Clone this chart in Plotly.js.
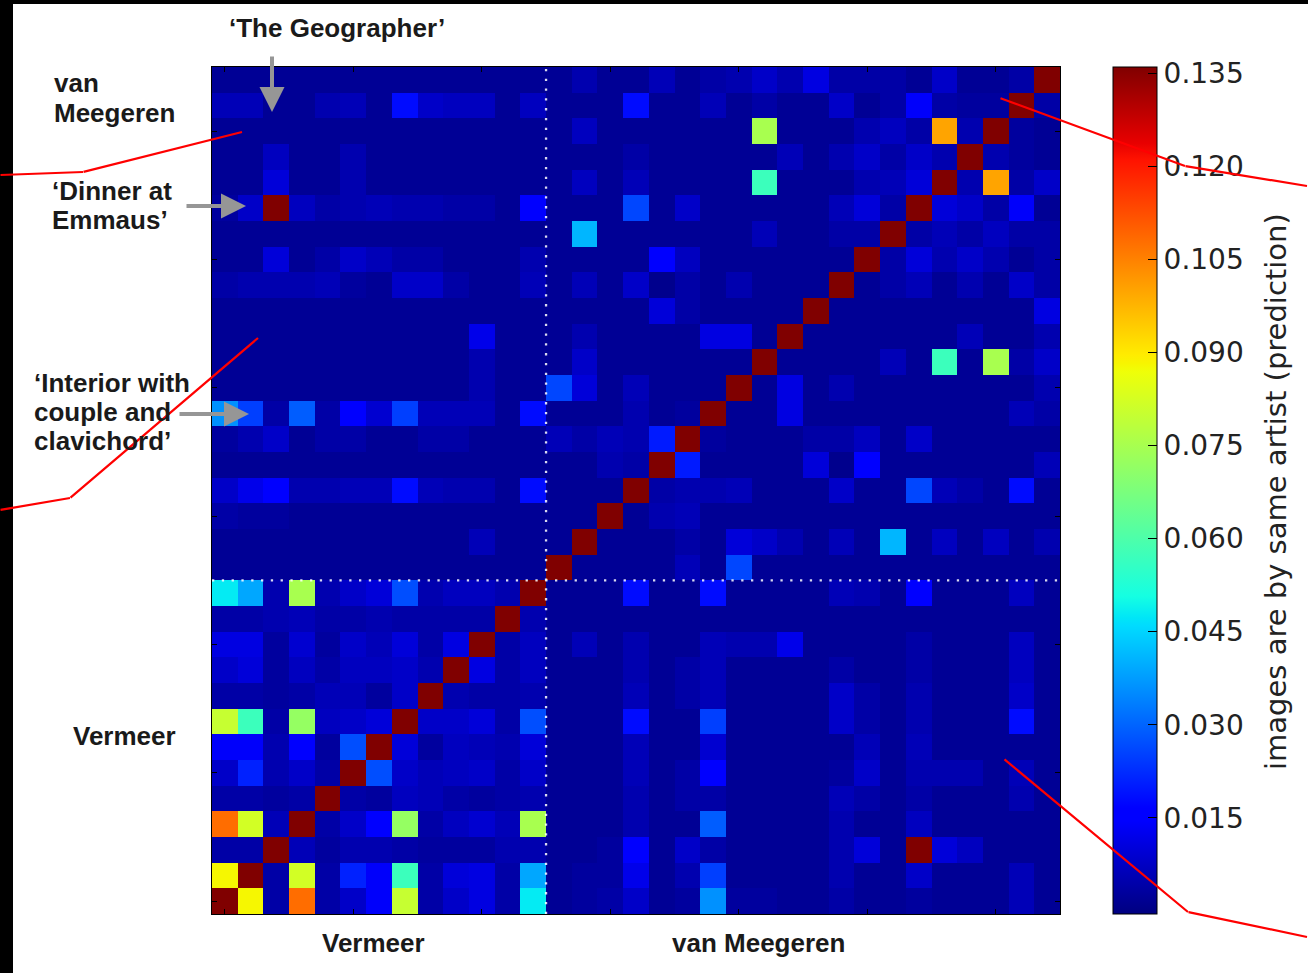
<!DOCTYPE html>
<html>
<head>
<meta charset="utf-8">
<script src="https://cdn.plot.ly/plotly-3.0.1.min.js"></script>
<style>
html,body{margin:0;padding:0;background:#fff;}
#chart{width:1308px;height:973px;}
</style>
</head>
<body>
<div id="chart"></div>
<script>
// painting indices: 0-12 Vermeer, 13-32 van Meegeren
const paintingIndex = [0,1,2,3,4,5,6,7,8,9,10,11,12,13,14,15,16,17,18,19,20,21,22,23,24,25,26,27,28,29,30,31,32];

// predicted probability that images are by the same artist (row = y index, col = x index)
const similarity = [
/* 0*/ [0.14,0.088,0.004,0.108,0.004,0.008,0.014,0.080,0.004,0.008,0.011,0.004,0.048,0.002,0.003,0.004,0.008,0.002,0.003,0.036,0.003,0.003,0.002,0.002,0.004,0.002,0.002,0.003,0.002,0.002,0.002,0.006,0.002],
/* 1*/ [0.088,0.14,0.004,0.082,0.004,0.021,0.014,0.057,0.004,0.010,0.011,0.004,0.039,0.002,0.003,0.003,0.012,0.002,0.005,0.025,0.002,0.002,0.002,0.002,0.005,0.002,0.002,0.008,0.002,0.002,0.002,0.006,0.002],
/* 2*/ [0.004,0.004,0.14,0.006,0.003,0.005,0.005,0.004,0.003,0.003,0.003,0.005,0.005,0.002,0.002,0.003,0.015,0.002,0.008,0.004,0.002,0.002,0.002,0.002,0.005,0.010,0.002,0.14,0.010,0.007,0.002,0.002,0.002],
/* 3*/ [0.108,0.082,0.006,0.14,0.004,0.008,0.016,0.072,0.004,0.007,0.009,0.006,0.075,0.002,0.002,0.002,0.005,0.002,0.002,0.029,0.002,0.002,0.002,0.002,0.005,0.002,0.002,0.007,0.002,0.002,0.002,0.002,0.002],
/* 4*/ [0.004,0.004,0.003,0.004,0.14,0.004,0.003,0.007,0.006,0.004,0.003,0.004,0.005,0.002,0.002,0.002,0.005,0.002,0.004,0.004,0.002,0.002,0.002,0.002,0.006,0.004,0.002,0.004,0.002,0.002,0.002,0.005,0.002],
/* 5*/ [0.008,0.021,0.005,0.008,0.004,0.14,0.027,0.008,0.006,0.007,0.008,0.004,0.008,0.002,0.002,0.002,0.006,0.002,0.004,0.016,0.002,0.002,0.002,0.002,0.003,0.008,0.002,0.005,0.005,0.005,0.002,0.006,0.002],
/* 6*/ [0.014,0.014,0.005,0.016,0.003,0.027,0.14,0.010,0.003,0.007,0.006,0.005,0.010,0.002,0.002,0.002,0.006,0.002,0.002,0.009,0.002,0.002,0.002,0.002,0.002,0.006,0.002,0.006,0.002,0.002,0.002,0.002,0.002],
/* 7*/ [0.080,0.057,0.004,0.072,0.007,0.008,0.010,0.14,0.008,0.008,0.010,0.004,0.027,0.002,0.002,0.002,0.018,0.002,0.002,0.025,0.002,0.002,0.002,0.002,0.008,0.004,0.002,0.005,0.002,0.002,0.002,0.018,0.002],
/* 8*/ [0.004,0.004,0.003,0.004,0.006,0.006,0.003,0.008,0.14,0.005,0.004,0.004,0.005,0.002,0.002,0.002,0.006,0.002,0.004,0.006,0.002,0.002,0.002,0.002,0.008,0.004,0.002,0.005,0.002,0.002,0.002,0.008,0.002],
/* 9*/ [0.008,0.010,0.003,0.007,0.004,0.007,0.007,0.008,0.005,0.14,0.011,0.004,0.007,0.002,0.002,0.002,0.005,0.002,0.004,0.006,0.002,0.002,0.002,0.002,0.004,0.002,0.002,0.004,0.002,0.002,0.002,0.007,0.002],
/*10*/ [0.011,0.011,0.003,0.009,0.003,0.008,0.006,0.010,0.004,0.011,0.14,0.004,0.007,0.002,0.006,0.002,0.005,0.002,0.002,0.006,0.005,0.005,0.012,0.002,0.002,0.002,0.002,0.004,0.002,0.002,0.002,0.007,0.002],
/*11*/ [0.004,0.004,0.005,0.006,0.004,0.004,0.005,0.004,0.004,0.004,0.004,0.14,0.005,0.002,0.002,0.002,0.002,0.002,0.002,0.002,0.002,0.002,0.002,0.002,0.002,0.002,0.002,0.002,0.002,0.002,0.002,0.002,0.002],
/*12*/ [0.048,0.039,0.005,0.075,0.005,0.008,0.010,0.027,0.005,0.007,0.007,0.005,0.14,0.002,0.002,0.002,0.018,0.002,0.002,0.018,0.002,0.002,0.002,0.002,0.006,0.005,0.002,0.016,0.002,0.002,0.002,0.007,0.002],
/*13*/ [0.002,0.002,0.002,0.002,0.002,0.002,0.002,0.002,0.002,0.002,0.002,0.002,0.002,0.14,0.002,0.002,0.002,0.002,0.006,0.002,0.026,0.002,0.002,0.002,0.002,0.002,0.002,0.002,0.002,0.002,0.002,0.002,0.002],
/*14*/ [0.002,0.002,0.002,0.002,0.002,0.002,0.002,0.002,0.002,0.002,0.006,0.002,0.002,0.002,0.14,0.002,0.002,0.002,0.004,0.002,0.010,0.008,0.005,0.002,0.006,0.002,0.041,0.002,0.007,0.002,0.007,0.002,0.005],
/*15*/ [0.004,0.003,0.003,0.002,0.002,0.002,0.002,0.002,0.002,0.002,0.002,0.002,0.002,0.002,0.002,0.14,0.002,0.005,0.006,0.002,0.002,0.002,0.002,0.002,0.002,0.002,0.002,0.002,0.002,0.002,0.002,0.002,0.002],
/*16*/ [0.008,0.012,0.015,0.005,0.005,0.006,0.006,0.018,0.006,0.005,0.005,0.002,0.018,0.002,0.002,0.002,0.14,0.004,0.005,0.005,0.006,0.002,0.002,0.002,0.008,0.002,0.002,0.026,0.006,0.004,0.002,0.018,0.002],
/*17*/ [0.002,0.002,0.002,0.002,0.002,0.002,0.002,0.002,0.002,0.002,0.002,0.002,0.002,0.002,0.002,0.005,0.004,0.14,0.020,0.002,0.002,0.002,0.002,0.010,0.001,0.015,0.002,0.002,0.002,0.002,0.002,0.002,0.006],
/*18*/ [0.003,0.005,0.008,0.002,0.004,0.004,0.002,0.002,0.004,0.004,0.002,0.002,0.002,0.006,0.004,0.006,0.005,0.020,0.14,0.003,0.002,0.002,0.002,0.004,0.004,0.007,0.002,0.008,0.002,0.002,0.002,0.002,0.002],
/*19*/ [0.036,0.025,0.004,0.029,0.004,0.016,0.009,0.025,0.006,0.006,0.006,0.002,0.018,0.002,0.002,0.002,0.005,0.002,0.003,0.14,0.002,0.002,0.011,0.002,0.002,0.002,0.002,0.002,0.002,0.002,0.002,0.006,0.004],
/*20*/ [0.002,0.002,0.002,0.002,0.002,0.002,0.002,0.002,0.002,0.002,0.005,0.002,0.002,0.026,0.010,0.002,0.006,0.002,0.002,0.002,0.14,0.002,0.011,0.002,0.005,0.002,0.002,0.002,0.002,0.002,0.002,0.002,0.005],
/*21*/ [0.002,0.002,0.002,0.002,0.002,0.002,0.002,0.002,0.002,0.002,0.005,0.002,0.002,0.002,0.008,0.002,0.002,0.002,0.002,0.002,0.002,0.14,0.002,0.002,0.002,0.002,0.006,0.002,0.057,0.002,0.075,0.004,0.008],
/*22*/ [0.002,0.002,0.002,0.002,0.002,0.002,0.002,0.002,0.002,0.002,0.012,0.002,0.002,0.002,0.005,0.002,0.002,0.002,0.002,0.011,0.011,0.002,0.14,0.002,0.002,0.002,0.002,0.002,0.002,0.006,0.002,0.002,0.005],
/*23*/ [0.002,0.002,0.002,0.002,0.002,0.002,0.002,0.002,0.002,0.002,0.002,0.002,0.002,0.002,0.002,0.002,0.002,0.010,0.004,0.002,0.002,0.002,0.002,0.14,0.002,0.002,0.002,0.002,0.002,0.002,0.002,0.002,0.011],
/*24*/ [0.004,0.005,0.005,0.005,0.006,0.003,0.002,0.008,0.008,0.004,0.002,0.002,0.006,0.002,0.006,0.002,0.008,0.001,0.004,0.002,0.005,0.002,0.002,0.002,0.14,0.002,0.004,0.006,0.002,0.005,0.002,0.008,0.004],
/*25*/ [0.002,0.002,0.010,0.002,0.004,0.008,0.006,0.004,0.004,0.002,0.002,0.002,0.005,0.002,0.002,0.002,0.002,0.015,0.007,0.002,0.002,0.002,0.002,0.002,0.002,0.14,0.004,0.010,0.005,0.008,0.005,0.002,0.004],
/*26*/ [0.002,0.002,0.002,0.002,0.002,0.002,0.002,0.002,0.002,0.002,0.002,0.002,0.002,0.002,0.041,0.002,0.002,0.002,0.002,0.002,0.002,0.006,0.002,0.002,0.004,0.004,0.14,0.004,0.006,0.004,0.007,0.004,0.004],
/*27*/ [0.003,0.008,0.14,0.007,0.004,0.005,0.006,0.005,0.005,0.004,0.004,0.002,0.016,0.002,0.002,0.002,0.026,0.002,0.008,0.002,0.002,0.002,0.002,0.002,0.006,0.010,0.004,0.14,0.010,0.008,0.004,0.014,0.002],
/*28*/ [0.002,0.002,0.010,0.002,0.002,0.005,0.002,0.002,0.002,0.002,0.002,0.002,0.002,0.002,0.007,0.002,0.006,0.002,0.002,0.002,0.002,0.057,0.002,0.002,0.002,0.005,0.006,0.010,0.14,0.005,0.100,0.004,0.008],
/*29*/ [0.002,0.002,0.007,0.002,0.002,0.005,0.002,0.002,0.002,0.002,0.002,0.002,0.002,0.002,0.002,0.002,0.004,0.002,0.002,0.002,0.002,0.002,0.006,0.002,0.005,0.008,0.004,0.008,0.005,0.14,0.005,0.003,0.002],
/*30*/ [0.002,0.002,0.002,0.002,0.002,0.002,0.002,0.002,0.002,0.002,0.002,0.002,0.002,0.002,0.007,0.002,0.002,0.002,0.002,0.002,0.002,0.075,0.002,0.002,0.002,0.005,0.007,0.004,0.100,0.005,0.14,0.003,0.002],
/*31*/ [0.006,0.006,0.002,0.002,0.005,0.006,0.002,0.018,0.008,0.007,0.007,0.002,0.007,0.002,0.002,0.002,0.018,0.002,0.002,0.006,0.002,0.004,0.002,0.002,0.008,0.002,0.004,0.014,0.004,0.003,0.003,0.14,0.004],
/*32*/ [0.002,0.002,0.002,0.002,0.002,0.002,0.002,0.002,0.002,0.002,0.002,0.002,0.002,0.002,0.005,0.002,0.002,0.006,0.002,0.004,0.005,0.008,0.005,0.011,0.004,0.004,0.004,0.002,0.008,0.002,0.002,0.004,0.14]
];

const colorbarTicks = [0.015,0.030,0.045,0.060,0.075,0.090,0.105,0.120,0.135];
const colorbarTitle = 'images are by same artist (prediction)';
const groupBoundary = 12.5; // between last Vermeer and first van Meegeren
const groupLabels = ['Vermeer','van Meegeren'];
const sideLabels = ['‘The Geographer’','van','Meegeren','‘Dinner at','Emmaus’','‘Interior with','couple and','clavichord’','Vermeer'];

// matplotlib "jet"
const jet = [
  [0,'rgb(0,0,128)'],[0.11,'rgb(0,0,255)'],[0.125,'rgb(0,0,255)'],
  [0.34,'rgb(0,219,255)'],[0.35,'rgb(0,230,247)'],[0.375,'rgb(21,255,226)'],
  [0.64,'rgb(239,255,8)'],[0.65,'rgb(247,245,0)'],[0.66,'rgb(255,236,0)'],
  [0.89,'rgb(255,19,0)'],[0.91,'rgb(232,0,0)'],[1,'rgb(128,0,0)']
];

// layout geometry (pixels)
const L = 212, T = 67, W = 848, H = 847;
const fx = p => (p - L) / W;
const fy = p => (T + H - p) / H;

const trace = {
  type: 'heatmap',
  x: paintingIndex,
  y: paintingIndex,
  z: similarity,
  zmin: -0.0005,
  zmax: 0.136,
  colorscale: jet,
  showscale: true,
  hoverinfo: 'skip',
  colorbar: {
    x: fx(1113), xanchor: 'left', xpad: 0,
    y: 0.5, yanchor: 'middle', ypad: 0,
    len: 1, lenmode: 'fraction',
    thickness: 44, thicknessmode: 'pixels',
    outlinewidth: 1, outlinecolor: '#000',
    tickmode: 'array', tickvals: colorbarTicks,
    tickformat: '.3f',
    ticks: 'inside', ticklen: 9, tickwidth: 1, tickcolor: '#000',
    tickfont: {family: 'DejaVu Sans', size: 28, color: '#222'}
  }
};

const axisCommon = {
  range: [-0.5, 32.5],
  showgrid: false, zeroline: false,
  showline: true, mirror: 'ticks', linecolor: '#000', linewidth: 1,
  ticks: 'inside', ticklen: 5, tickcolor: '#000', tickwidth: 1,
  tickmode: 'array', tickvals: [0,5,10,15,20,25,30],
  showticklabels: false, fixedrange: true
};

const dotted = {color: 'rgba(255,255,255,0.85)', width: 2.3, dash: '2.3px,7.5px'};

const shapes = [
  {type: 'line', xref: 'x', yref: 'y', x0: groupBoundary, x1: groupBoundary, y0: -0.5, y1: 32.5, line: dotted},
  {type: 'line', xref: 'x', yref: 'y', x0: -0.5, x1: 32.5, y0: groupBoundary, y1: groupBoundary, line: dotted},
  // black photo borders
  {type: 'rect', xref: 'paper', yref: 'paper', x0: fx(0), x1: fx(13), y0: fy(973), y1: fy(0), fillcolor: '#000', line: {width: 0}},
  {type: 'rect', xref: 'paper', yref: 'paper', x0: fx(0), x1: fx(1308), y0: fy(4), y1: fy(0), fillcolor: '#000', line: {width: 0}}
];

// red overlay pointer lines (pixel polylines); drawn as arrow-less annotation segments so they sit above the colour bar
const redLinesPx = [
  [[0,175],[83,172],[242,132]],
  [[0,510],[70,498],[258,338]],
  [[1000,98],[1185,166],[1308,186]],
  [[1004,759],[1188,912],[1308,937]]
];

const annotations = [];
redLinesPx.forEach(pts => {
  for (let i = 1; i < pts.length; i++) {
    const a = pts[i - 1], b = pts[i];
    annotations.push({
      text: '', xref: 'paper', yref: 'paper', x: fx(b[0]), y: fy(b[1]),
      ax: a[0] - b[0], ay: a[1] - b[1], axref: 'pixel', ayref: 'pixel',
      showarrow: true, arrowhead: 0, arrowwidth: 2.2, arrowcolor: '#ff0000', standoff: 0, borderpad: 0
    });
  }
});

const labelFont = {family: 'Liberation Sans, Arial, sans-serif', size: 26, color: '#1a1a1a'};
const labelPos = [[337,28,'center'],[52,83,'left'],[52,113,'left'],[50,191,'left'],[50,220,'left'],[32,383,'left'],[32,412,'left'],[32,441,'left'],[71,736,'left']];
sideLabels.forEach((t, i) => annotations.push({
  text: '<b>' + t + '</b>', xref: 'paper', yref: 'paper',
  x: fx(labelPos[i][0]), y: fy(labelPos[i][1]), xanchor: labelPos[i][2], yanchor: 'middle',
  showarrow: false, font: labelFont
}));
const groupPos = [[373,943],[758,943]];
groupLabels.forEach((t, i) => annotations.push({
  text: '<b>' + t + '</b>', xref: 'paper', yref: 'paper',
  x: fx(groupPos[i][0]), y: fy(groupPos[i][1]), xanchor: 'center', yanchor: 'middle',
  showarrow: false, font: labelFont
}));
// colorbar title (rotated)
annotations.push({
  text: colorbarTitle, xref: 'paper', yref: 'paper',
  x: fx(1276), y: fy(492), xanchor: 'center', yanchor: 'middle', textangle: -90,
  showarrow: false, font: {family: 'DejaVu Sans', size: 29, color: '#222'}
});
// grey arrows: tip position and tail offset (pixels)
const arrowsPx = [[272,112,0,-57],[246,206,-61,0],[249,414,-71,0]];
arrowsPx.forEach(a => annotations.push({
  text: '', xref: 'paper', yref: 'paper', x: fx(a[0]), y: fy(a[1]),
  ax: a[2], ay: a[3], axref: 'pixel', ayref: 'pixel',
  showarrow: true, arrowhead: 2, arrowsize: 1.25, arrowwidth: 4, arrowcolor: '#969696', standoff: 0
}));

const layout = {
  width: 1308, height: 973,
  margin: {l: L, r: 1308 - L - W, t: T, b: 973 - T - H, pad: 0},
  paper_bgcolor: '#fff', plot_bgcolor: '#fff',
  xaxis: axisCommon,
  yaxis: Object.assign({}, axisCommon),
  shapes: shapes,
  annotations: annotations,
  showlegend: false
};

Plotly.newPlot('chart', [trace], layout, {displayModeBar: false, staticPlot: true});
</script>
</body>
</html>
